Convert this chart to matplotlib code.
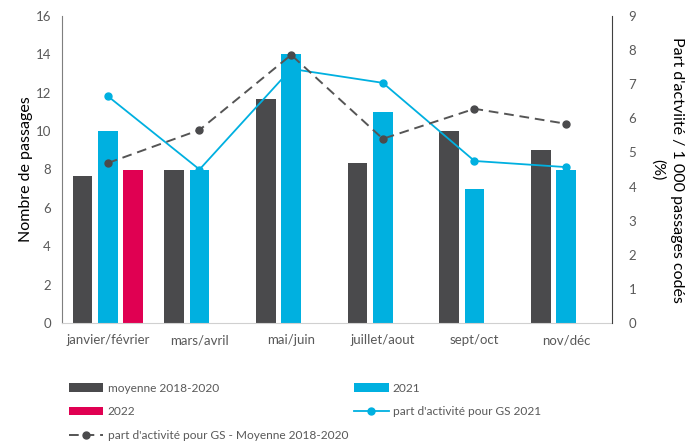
import matplotlib.pyplot as plt
import numpy as np

# data
categories = ["janvier/février", "mars/avril", "mai/juin", "juillet/aout", "sept/oct", "nov/déc"]
moyenne_1820 = [7.65, 8.0, 11.7, 8.35, 10.0, 9.0]
passages_2021 = [10.0, 8.0, 14.0, 11.0, 7.0, 8.0]
passages_2022 = [8.0, np.nan, np.nan, np.nan, np.nan, np.nan]
part_gs_2021 = [6.65, 4.5, 7.45, 7.04, 4.75, 4.57]
part_gs_moy = [4.69, 5.66, 7.86, 5.4, 6.28, 5.84]

plt.rcParams['font.family'] = ['Lato', 'DejaVu Sans']

c_grey = '#4a4a4c'
c_blue = '#00b0e0'
c_pink = '#e00052'
c_tick = '#595959'

fig = plt.figure(figsize=(6.86, 4.43), dpi=100)
ax = fig.add_axes([62/686, 1 - 323/443, 550/686, 307/443])
ax2 = ax.twinx()

x = np.arange(len(categories))
off = 0.276
w = 0.213
b1 = ax.bar(x - off, moyenne_1820, w, color=c_grey, label='moyenne 2018-2020')
b2 = ax.bar(x, passages_2021, w, color=c_blue, label='2021')
b3 = ax.bar(x + off, passages_2022, w, color=c_pink, label='2022')

l1, = ax2.plot(x, part_gs_2021, color=c_blue, lw=1.3, marker='o', ms=5,
               label="part d'activité pour GS 2021")
l2, = ax2.plot(x, part_gs_moy, color='#555555', lw=1.4, ls=(0, (5, 3)), marker='o', ms=5,
               markerfacecolor=c_grey, markeredgecolor=c_grey,
               label="part d'activité pour GS - Moyenne 2018-2020")

ax.set_xlim(-0.5, 5.5)
ax.set_ylim(0, 16)
ax.set_yticks(range(0, 17, 2))
ax2.set_ylim(0, 9)
ax2.set_yticks(range(0, 10))
ax.set_xticks(x)
ax.set_xticklabels(categories)

for a in (ax, ax2):
    for s in a.spines.values():
        s.set_visible(False)
    a.tick_params(length=0, colors=c_tick, labelsize=9.5)
ax.spines['left'].set_visible(True)
ax.spines['left'].set_color('#7f7f7f')
ax.spines['bottom'].set_visible(True)
ax.spines['bottom'].set_color('#d0d0d0')
ax2.spines['right'].set_visible(True)
ax2.spines['right'].set_color('#404040')
ax.tick_params(axis='x', pad=8)
ax.tick_params(axis='y', pad=8)
ax2.tick_params(axis='y', pad=12)

ax.set_ylabel('Nombre de passages', fontsize=11.5, color='black', labelpad=2)
ax2.set_ylabel("Part d'actviité / 1 000 passages codés\n(%)", fontsize=11.5, color='black',
               rotation=270, labelpad=34, linespacing=1.45)

fig.legend([b1, b3, l2, b2, l1],
           ['moyenne 2018-2020', '2022', "part d'activité pour GS - Moyenne 2018-2020",
            '2021', "part d'activité pour GS 2021"],
           ncol=2, loc='upper left', bbox_to_anchor=(58/686, 1 - 372/443),
           frameon=False, fontsize=8.6, handlelength=2.9, columnspacing=0.5,
           labelspacing=1.05, handletextpad=0.35, labelcolor=c_tick)

fig.savefig('out.png', dpi=100)
